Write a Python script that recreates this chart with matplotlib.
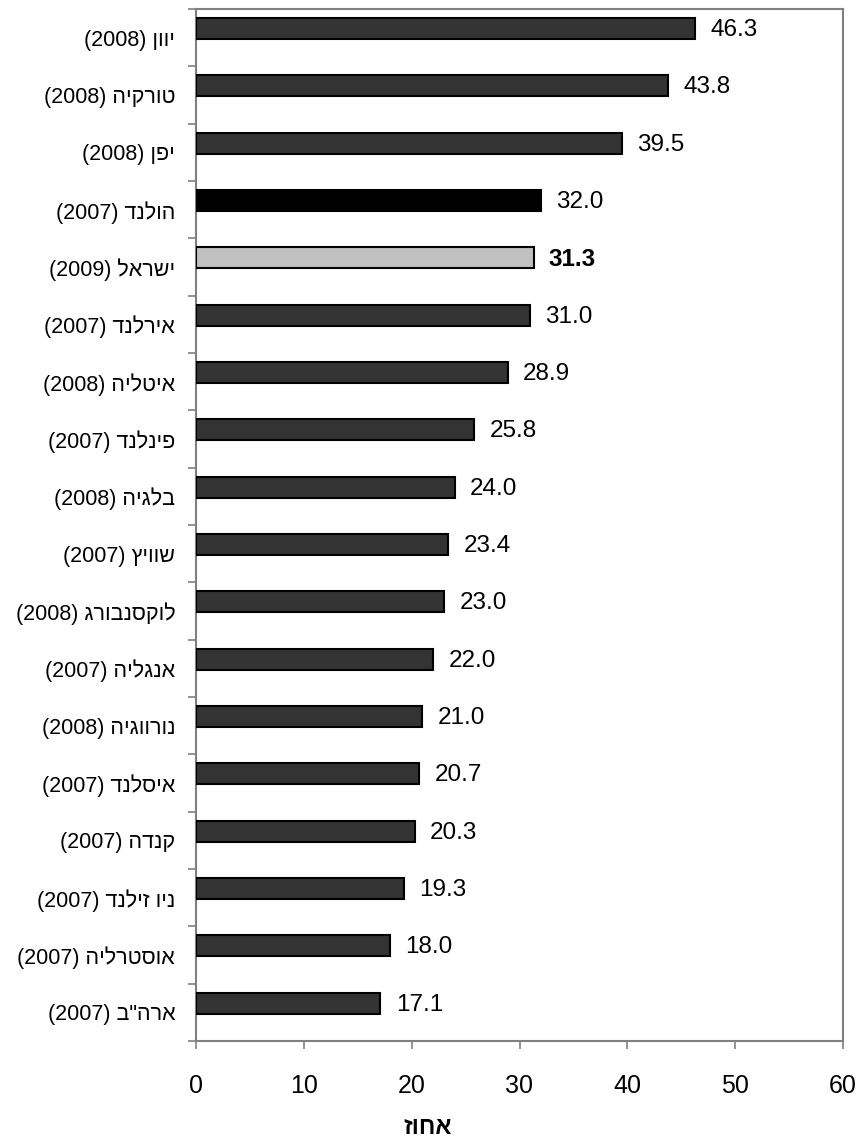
import numpy as np
import matplotlib
matplotlib.use('Agg')
import matplotlib.pyplot as plt
from matplotlib.ticker import FixedLocator

# data (top to bottom)
countries = ['יוון', 'טורקיה', 'יפן', 'הולנד', 'ישראל', 'אירלנד', 'איטליה',
             'פינלנד', 'בלגיה', 'שוויץ', 'לוקסנבורג', 'אנגליה', 'נורווגיה',
             'איסלנד', 'קנדה', 'ניו זילנד', 'אוסטרליה', 'ארה"ב']
years = ['2008', '2008', '2008', '2007', '2009', '2007', '2008',
         '2007', '2008', '2007', '2008', '2007', '2008',
         '2007', '2007', '2007', '2007', '2007']
values = [46.3, 43.8, 39.5, 32.0, 31.3, 31.0, 28.9, 25.8, 24.0, 23.4,
          23.0, 22.0, 21.0, 20.7, 20.3, 19.3, 18.0, 17.1]
xticks = [0, 10, 20, 30, 40, 50, 60]
xlabel = 'אחוז'

plt.rcParams['font.family'] = ['Liberation Sans', 'DejaVu Sans']

# matplotlib draws text left to right with no bidi,
# so hebrew goes in visual order and the year goes on the left
labels = ['(' + y + ') ' + c[::-1] for c, y in zip(countries, years)]

colors = []
for c in countries:
    if c == 'הולנד':
        colors.append('#000000')
    elif c == 'ישראל':
        colors.append('#c0c0c0')
    else:
        colors.append('#333333')

fig = plt.figure(figsize=(8.62, 11.39), dpi=100)
ax = fig.add_axes([196/862, 1 - 1041/1139, (843-196)/862, (1041-9)/1139])

pos = np.arange(len(values))
shift = 0.16  # bars sit a bit above the category centre
ax.barh(pos - shift, values, height=0.37, color=colors, edgecolor='black',
        linewidth=1.5, zorder=3)
ax.set_ylim(len(values) - 0.5, -0.5)
ax.set_xlim(0, 60)

for i, v in enumerate(values):
    bold = countries[i] == 'ישראל'
    ax.annotate('%.1f' % v, (v, i - shift), xytext=(11, -1), textcoords='offset points',
                va='center', ha='left', fontsize=17.5,
                fontweight='bold' if bold else 'normal')

ax.yaxis.set_major_locator(FixedLocator(pos))
ax.set_yticklabels(labels, fontsize=15.5)
ax.yaxis.set_minor_locator(FixedLocator(np.arange(len(values) + 1) - 0.5))
ax.tick_params(axis='y', which='major', length=0, pad=15)
ax.tick_params(axis='y', which='minor', length=6, direction='out', color='#808080', width=1.2)

ax.set_xticks(xticks)
ax.set_xticklabels([str(t) for t in xticks], fontsize=18)
ax.tick_params(axis='x', length=6, direction='out', color='#808080', width=1.2, pad=18)

for s in ax.spines.values():
    s.set_color('#808080')
    s.set_linewidth(1.5)

fig.text(428/862, 1 - 1128/1139, xlabel[::-1], ha='center', va='center',
         fontsize=17, fontweight='bold')

fig.savefig('out.png', dpi=100)
